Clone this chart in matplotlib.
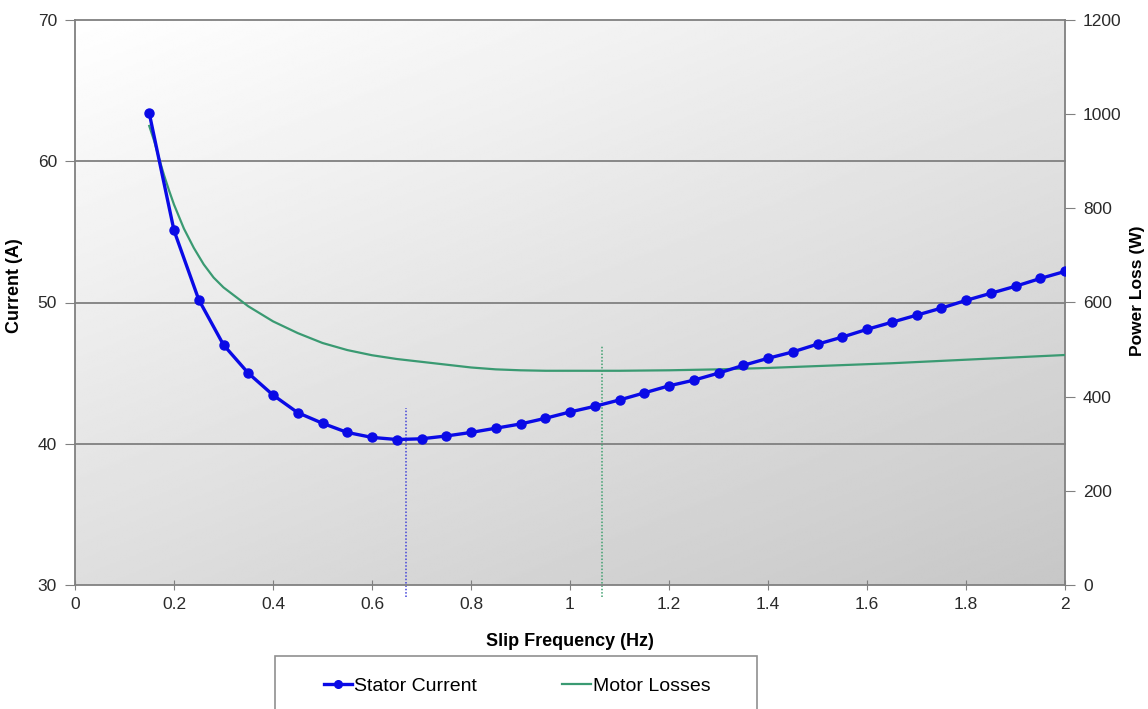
import numpy as np
import matplotlib
matplotlib.use("Agg")
import matplotlib.pyplot as plt
import matplotlib.transforms as mtransforms
from matplotlib.lines import Line2D
from matplotlib.patches import Rectangle

plt.rcParams['font.family'] = ['Liberation Sans', 'DejaVu Sans']

# ---- data ----
slip_freq = [0.15, 0.20, 0.25, 0.30, 0.35, 0.40, 0.45, 0.50, 0.55, 0.60,
             0.65, 0.70, 0.75, 0.80, 0.85, 0.90, 0.95, 1.00, 1.05, 1.10,
             1.15, 1.20, 1.25, 1.30, 1.35, 1.40, 1.45, 1.50, 1.55, 1.60,
             1.65, 1.70, 1.75, 1.80, 1.85, 1.90, 1.95, 2.00]
stator_current = [63.4, 55.1, 50.2, 47.0, 45.0, 43.45, 42.2, 41.45, 40.8, 40.45,
                  40.3, 40.35, 40.55, 40.8, 41.1, 41.4, 41.8, 42.25, 42.65, 43.1,
                  43.6, 44.1, 44.5, 45.0, 45.55, 46.05, 46.5, 47.05, 47.55, 48.1,
                  48.6, 49.1, 49.6, 50.15, 50.65, 51.15, 51.7, 52.2]

loss_freq = [0.15, 0.16, 0.17, 0.18, 0.19, 0.20, 0.22, 0.24, 0.26, 0.28,
             0.30, 0.35, 0.40, 0.45, 0.50, 0.55, 0.60, 0.65, 0.70, 0.75,
             0.80, 0.85, 0.90, 0.95, 1.00, 1.05, 1.10, 1.15, 1.20, 1.25,
             1.30, 1.35, 1.40, 1.45, 1.50, 1.55, 1.60, 1.65, 1.70, 1.75,
             1.80, 1.85, 1.90, 1.95, 2.00]
motor_losses = [975, 943, 905, 870, 838, 808, 757, 716, 681, 653,
                632, 592, 560, 535, 514, 499, 488, 480, 474, 468,
                462, 458, 456, 455, 455, 455, 455, 455.5, 456, 457,
                458, 459.5, 461, 463, 465, 467, 469, 471, 473.5, 476,
                478.5, 481, 483.5, 486, 488.5]

opt_current_freq = 0.668   # marker line for current minimum
opt_current_top = 42.5
opt_loss_freq = 1.064      # marker line for loss minimum
opt_loss_top = 47.0

current_ticks = [30, 40, 50, 60, 70]
power_ticks = [0, 200, 400, 600, 800, 1000, 1200]
freq_ticks = [0, 0.2, 0.4, 0.6, 0.8, 1.0, 1.2, 1.4, 1.6, 1.8, 2.0]
freq_labels = ['0', '0.2', '0.4', '0.6', '0.8', '1', '1.2', '1.4', '1.6', '1.8', '2']

# ---- figure ----
W, H = 1148, 709
fig = plt.figure(figsize=(W / 100, H / 100), dpi=100)
L, R, T, B = 75, 1065, 20, 585
rect = [L / W, 1 - B / H, (R - L) / W, (B - T) / H]

ax2 = fig.add_axes(rect)             # power loss axis (drawn below)
ax = fig.add_axes(rect, sharex=ax2)  # current axis (drawn above)
ax2.set_zorder(1)
ax.set_zorder(2)
ax.patch.set_visible(False)

# gradient background
gx = np.linspace(0, 1, 300)
gy = np.linspace(0, 1, 300)
GX, GY = np.meshgrid(gx, gy)
grad = 1.0 - 0.09 * GX - 0.13 * (1 - GY)
ax2.imshow(grad, extent=[0, 1, 0, 1], transform=ax2.transAxes, origin='lower',
           aspect='auto', cmap='gray', vmin=0, vmax=1, zorder=0,
           interpolation='bilinear')

grid_color = '#808080'
ax2.set_xlim(0, 2)
ax2.set_ylim(0, 1200)
ax.set_ylim(30, 70)

# horizontal grid lines at current ticks, under the series
trans = mtransforms.blended_transform_factory(ax2.transAxes, ax.transData)
for v in current_ticks[1:]:
    ax2.plot([0, 1], [v, v], transform=trans, color=grid_color, lw=1.3,
             zorder=1, clip_on=False)

# motor losses
green = '#3a9a72'
ax2.plot(loss_freq, motor_losses, color=green, lw=1.6, zorder=3,
         solid_joinstyle='round')

# vertical dotted marker lines
ax.plot([opt_loss_freq, opt_loss_freq], [29.15, opt_loss_top], color='#40a070',
        lw=1.1, ls=(0, (1, 1.2)), clip_on=False, zorder=2)
ax.plot([opt_current_freq, opt_current_freq], [29.15, opt_current_top],
        color='#4444d8', lw=1.1, ls=(0, (1, 1.2)), clip_on=False, zorder=2)

# stator current
blue = '#0a0ae6'
ax.plot(slip_freq, stator_current, color=blue, lw=2.4, marker='o', ms=6.5,
        zorder=4, solid_joinstyle='round')

# spines
for a in (ax, ax2):
    for s in a.spines.values():
        s.set_visible(False)
ax.spines['left'].set_visible(True)
ax.spines['bottom'].set_visible(True)
ax2.spines['right'].set_visible(True)
for s in (ax.spines['left'], ax.spines['bottom'], ax2.spines['right']):
    s.set_color(grid_color)
    s.set_linewidth(1.3)

# ticks
tick_color = '#2a2a2a'
fs = 12.5
ax.set_xticks(freq_ticks)
ax.set_xticklabels(freq_labels)
ax.set_yticks(current_ticks)
ax2.set_yticks(power_ticks)
ax2.tick_params(axis='x', which='both', bottom=False, labelbottom=False)
ax.tick_params(axis='x', direction='inout', length=7, color=grid_color,
               labelsize=fs, labelcolor=tick_color, pad=5)
ax.tick_params(axis='y', direction='out', length=7, color=grid_color,
               labelsize=fs, labelcolor=tick_color, pad=6)
ax2.yaxis.tick_right()
ax2.tick_params(axis='y', direction='out', length=7, color=grid_color,
                labelsize=fs, labelcolor=tick_color, pad=6, left=False,
                right=True, labelleft=False, labelright=True)

# axis labels
ax.set_xlabel('Slip Frequency (Hz)', fontsize=13, fontweight='bold')
ax.xaxis.set_label_coords(0.5, -0.085)
ax.set_ylabel('Current (A)', fontsize=13, fontweight='bold')
ax.yaxis.set_label_coords(-0.053, 0.53)
ax2.yaxis.set_label_position('right')
ax2.set_ylabel('Power Loss (W)', fontsize=12.5, fontweight='bold', rotation=90)
ax2.yaxis.set_label_coords(1.066, 0.52)

# legend box
lx0, ly0, lx1, ly1 = 275, 656, 757, 730
fig.patches.append(Rectangle((lx0 / W, 1 - ly1 / H), (lx1 - lx0) / W,
                             (ly1 - ly0) / H, transform=fig.transFigure,
                             facecolor='white', edgecolor='#909090', lw=1.2))
handles = [Line2D([], [], color=blue, lw=2.4, marker='o', ms=5.5),
           Line2D([], [], color=green, lw=1.6)]
fig.legend(handles, ['Stator Current', 'Motor Losses'], ncol=2,
           loc='center', bbox_to_anchor=(517 / W, 1 - 686 / H),
           frameon=False, fontsize=14, handlelength=1.45, handletextpad=0.1,
           columnspacing=4.4, borderpad=0)

fig.savefig('out.png', dpi=100)
